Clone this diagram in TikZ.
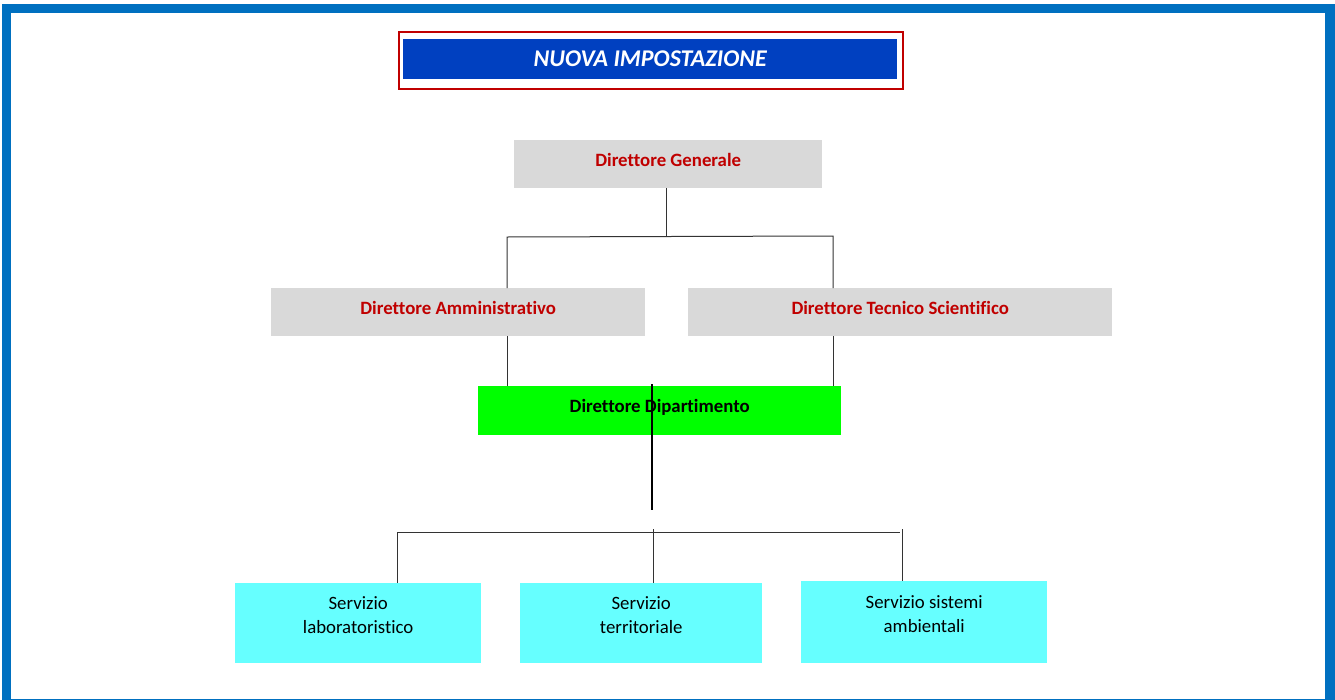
\documentclass[tikz,border=0pt]{standalone}
\usepackage{fontspec}
\setmainfont{Carlito}[Ligatures=NoCommon]
\usepackage{xcolor}
\usetikzlibrary{calc}

\definecolor{frameblue}{HTML}{0070C0}
\definecolor{titleblue}{HTML}{0040C0}
\definecolor{headred}{HTML}{C00000}
\definecolor{boxgray}{HTML}{D9D9D9}
\definecolor{dipgreen}{HTML}{00FF00}
\definecolor{servcyan}{HTML}{66FFFF}

\begin{document}
\begin{tikzpicture}[
  x=1pt, y=-1pt,
  every node/.style={inner sep=0pt, anchor=north west},
  head/.style={fill=boxgray, minimum height=48pt, text=headred,
               font=\fontsize{18.8}{22}\selectfont\bfseries, text height=13pt, text depth=8pt},
  dip/.style={fill=dipgreen, minimum height=49pt,
              font=\fontsize{18.8}{22}\selectfont\bfseries, text height=13pt, text depth=10pt},
  serv/.style={fill=servcyan, minimum height=80pt, align=center,
               font=\fontsize{18.8}{24}\selectfont, text depth=17pt},
  conn/.style={draw=black!80, line width=1pt},
  spine/.style={draw=black, line width=2.2pt}
]
\useasboundingbox (0,0) rectangle (1335,699);

% ---- Page frame ----
\draw[frameblue, line width=9.5pt] (6.5,8.5) rectangle (1330,704);

% ---- Title ----
\node[draw=headred, line width=2pt, fill=white, minimum width=504pt, minimum height=57pt]
  (titleFrame) at (398,31) {};
\node[fill=titleblue, text=white, minimum width=494pt, minimum height=40pt,
      font=\fontsize{24}{28}\selectfont\bfseries\itshape] (title) at (403,39) {NUOVA IMPOSTAZIONE};

% ---- Directors ----
\node[head, minimum width=308pt] (dg) at (514,140) {Direttore Generale};
\node[head, minimum width=374pt] (dirAmm) at (271,288) {Direttore Amministrativo};
\node[head, minimum width=424pt] (dirTec) at (688,288) {Direttore Tecnico Scientifico};
\node[dip, minimum width=363pt] (dirDip) at (478,386) {Direttore Dipartimento};

% ---- Services ----
\node[serv, minimum width=246pt] (servLab) at (235,583) {Servizio\\laboratoristico};
\node[serv, minimum width=242pt] (servTer) at (520,583) {Servizio\\territoriale};
\node[serv, minimum width=246pt, minimum height=82pt] (servAmb) at (801,581) {Servizio sistemi\\ambientali};

% ---- Connectors ----
\coordinate (ammDrop) at (507,237);
\coordinate (tecDrop) at (833,236);
\coordinate (dipEnd) at (652,510);
\coordinate (busL) at (397,532);
\coordinate (busR) at (900,532);
\coordinate (terDrop) at (653,529);
\coordinate (ambDrop) at (902,529);

\draw[conn] (dg.south -| 666,0) -- (666,237);
\draw[conn] (ammDrop |- dirAmm.north) -- (ammDrop) -- (tecDrop) -- (tecDrop |- dirTec.north);
\draw[conn] (ammDrop |- dirAmm.south) -- (ammDrop |- dirDip.north);
\draw[conn] (tecDrop |- dirTec.south) -- (tecDrop |- dirDip.north);
\draw[spine] ([yshift=2pt]dipEnd |- dirDip.north) -- (dipEnd);

\draw[conn] (busL |- servLab.north) -- (busL) -- (busR);
\draw[conn] (terDrop) -- (terDrop |- servTer.north);
\draw[conn] (ambDrop) -- (ambDrop |- servAmb.north);

\end{tikzpicture}
\end{document}
